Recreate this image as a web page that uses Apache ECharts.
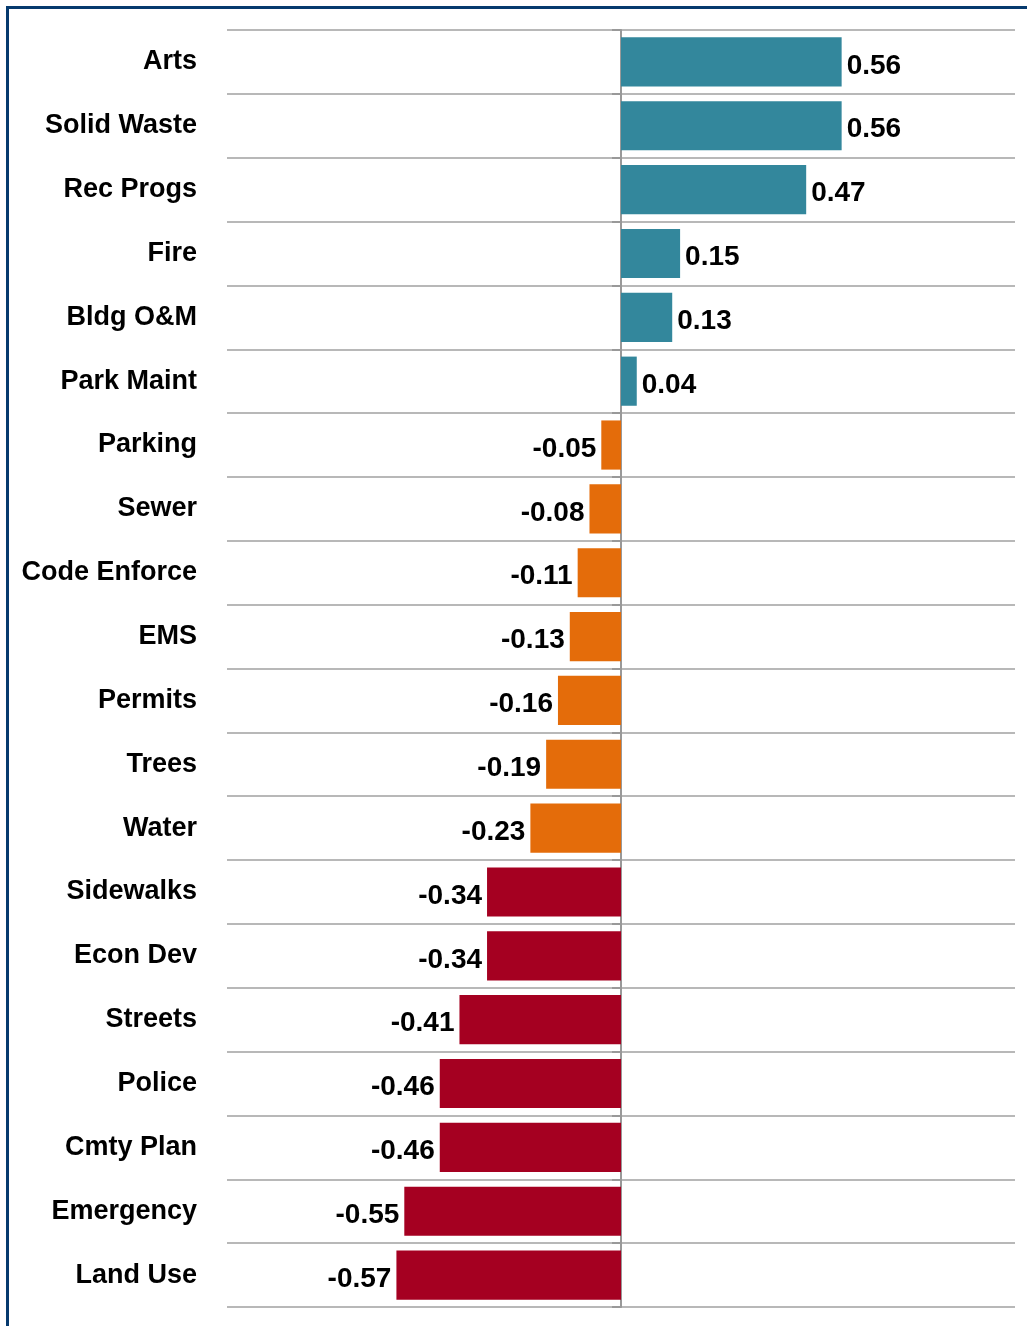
<!DOCTYPE html>
<html>
<head>
<meta charset="utf-8">
<script src="https://cdn.jsdelivr.net/npm/echarts@6/dist/echarts.min.js"></script>
<style>
html,body{margin:0;padding:0;background:#fff;}
#chart{width:1027px;height:1326px;}
</style>
</head>
<body>
<div id="chart"></div>
<script>
const categories = ['Arts','Solid Waste','Rec Progs','Fire','Bldg O&M','Park Maint','Parking','Sewer','Code Enforce','EMS','Permits','Trees','Water','Sidewalks','Econ Dev','Streets','Police','Cmty Plan','Emergency','Land Use'];
const values = [0.56,0.56,0.47,0.15,0.13,0.04,-0.05,-0.08,-0.11,-0.13,-0.16,-0.19,-0.23,-0.34,-0.34,-0.41,-0.46,-0.46,-0.55,-0.57];
const tiers = ['pos','pos','pos','pos','pos','pos','mid','mid','mid','mid','mid','mid','mid','low','low','low','low','low','low','low'];
const tierColors = {pos:'#33879c', mid:'#e46c0a', low:'#a50021'};

const seriesData = values.map((v,i)=>({
  value: v,
  itemStyle: {color: tierColors[tiers[i]]},
  label: {position: v >= 0 ? 'right' : 'left'}
}));

const chart = echarts.init(document.getElementById('chart'), null, {renderer:'canvas'});
chart.setOption({
  animation:false,
  backgroundColor:'#ffffff',
  grid:{left:227,right:12,top:30,bottom:19,containLabel:false},
  xAxis:{
    type:'value',min:-1,max:1,interval:1,
    show:true,
    axisLine:{show:false},axisTick:{show:false},axisLabel:{show:false},
    splitLine:{show:false}
  },
  yAxis:[{
    type:'category',data:categories,inverse:true,
    axisLine:{show:false,onZero:false},
    axisTick:{show:false},
    splitLine:{show:true,lineStyle:{color:'#a0a0a0',width:1.5}},
    axisLabel:{margin:30,color:'#000',fontFamily:'"Liberation Sans", Arial, sans-serif',fontWeight:'bold',fontSize:27,padding:[6,0,0,0]}
  },{
    type:'category',data:categories,inverse:true,position:'left',
    axisLine:{show:true,onZero:true,lineStyle:{color:'#999999',width:2}},
    axisTick:{show:true,length:9,inside:false,lineStyle:{color:'#999999',width:2}},
    axisLabel:{show:false},
    splitLine:{show:false}
  }],
  series:[{
    type:'bar',
    yAxisIndex:0,
    data:seriesData,
    barCategoryGap:'23%',
    label:{
      show:true,distance:5,color:'#000',offset:[0,4],
      fontFamily:'"Liberation Sans", Arial, sans-serif',fontWeight:'bold',fontSize:28,
      formatter:p=>p.value.toFixed(2)
    }
  }],
  graphic:[{
    type:'rect',
    shape:{x:7.5,y:7.5,width:1200,height:1500},
    style:{fill:'none',stroke:'#063a6e',lineWidth:3},
    z:100,silent:true
  }]
});
</script>
</body>
</html>
